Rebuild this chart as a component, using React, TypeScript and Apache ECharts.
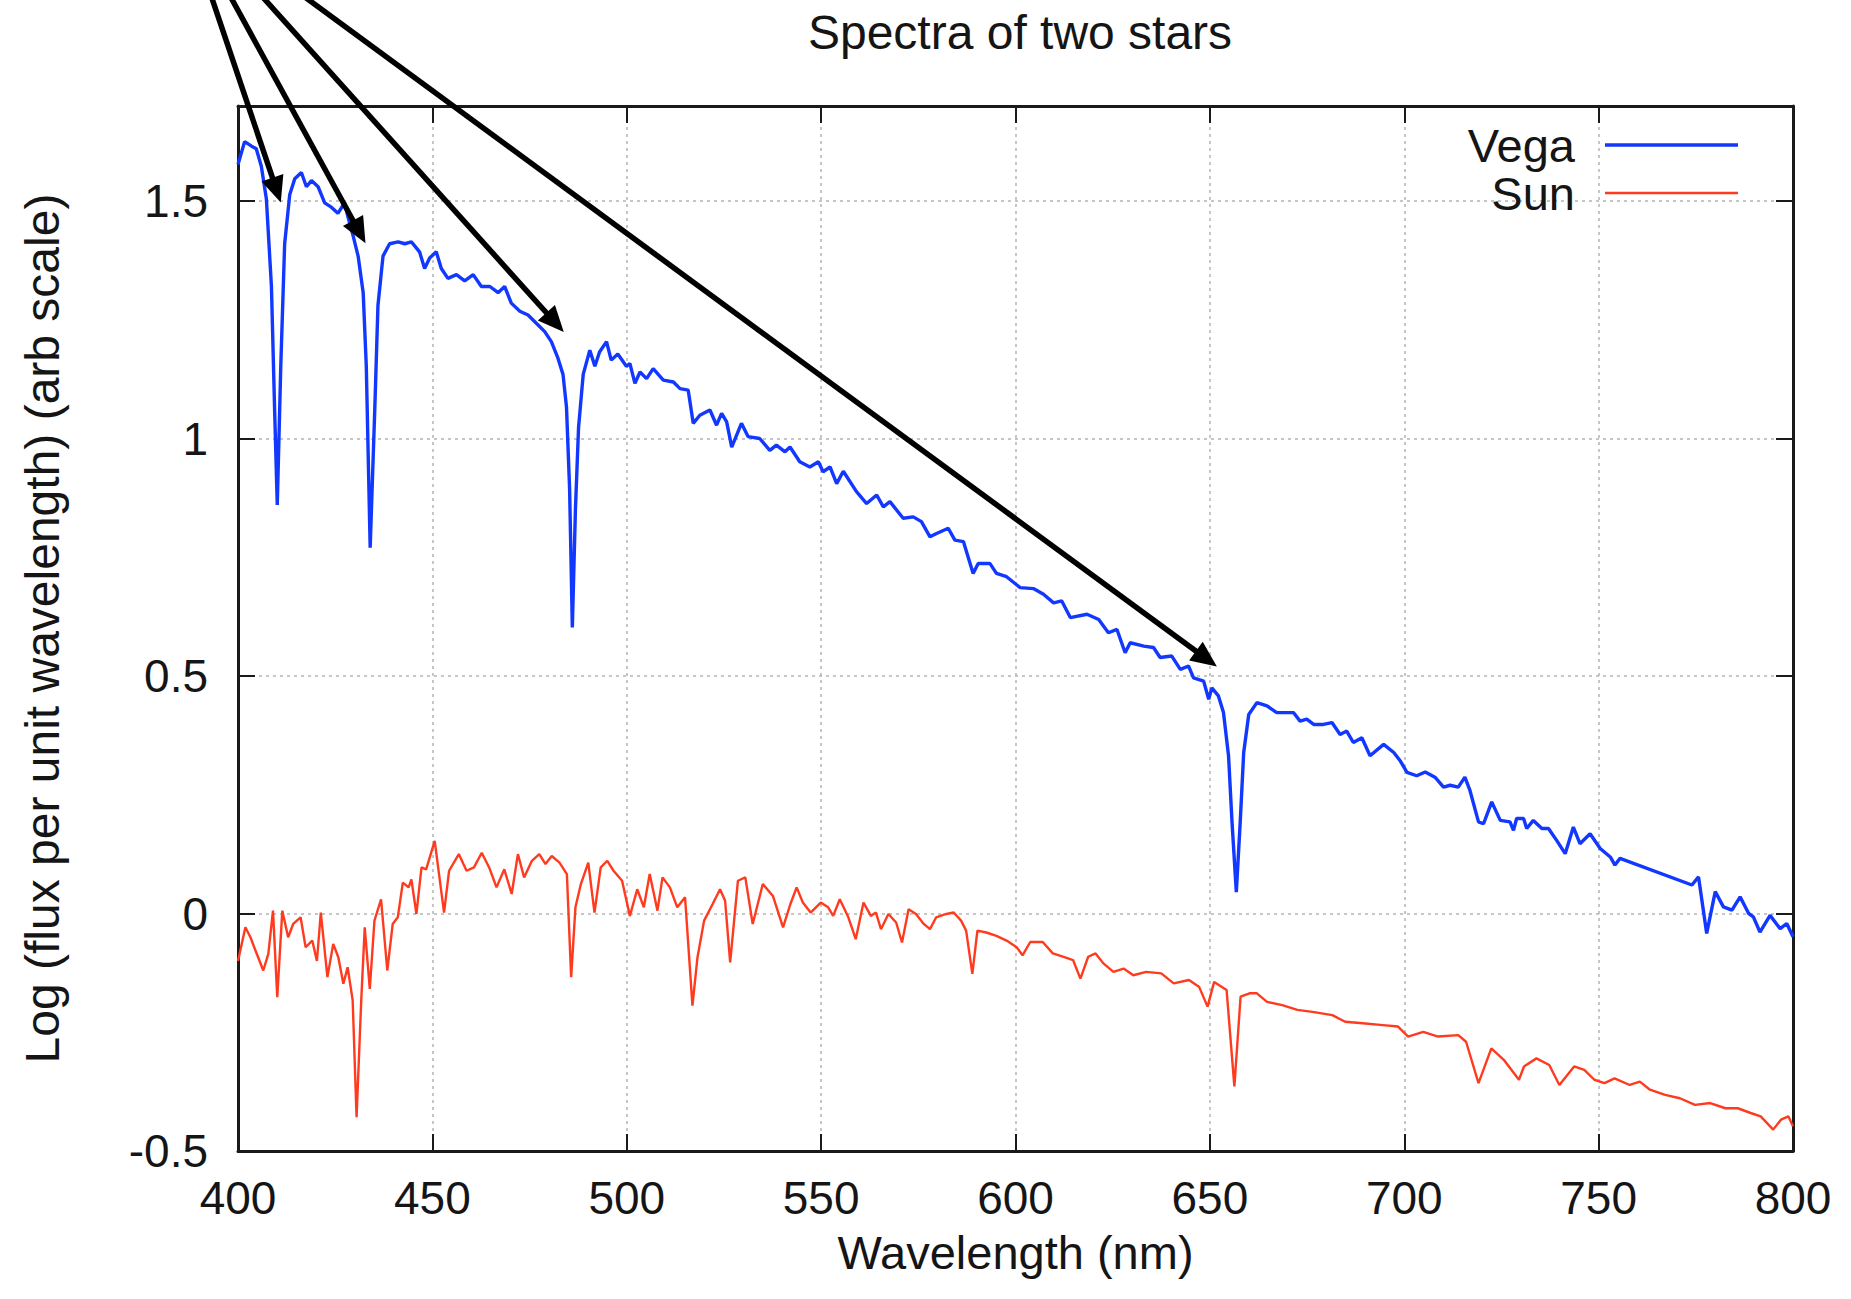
import React, { useEffect, useRef } from "react";
import * as echarts from "echarts";

const vegaWavelength = [
  400.0, 401.7, 403.4, 404.7, 406.0, 407.3, 408.6, 409.4, 410.1, 411.0, 412.0, 413.3, 414.6, 416.3, 417.6, 418.9,
  420.6, 422.3, 424.0, 425.7, 427.4, 428.3, 429.6, 430.9, 432.2, 433.0, 434.0, 435.2, 436.0, 437.3, 439.0, 441.2,
  442.9, 444.6, 446.7, 448.0, 449.3, 451.0, 452.3, 454.0, 456.2, 458.3, 460.5, 462.6, 464.8, 466.9, 468.6, 470.3,
  472.5, 474.6, 476.8, 478.9, 480.6, 482.3, 483.6, 484.5, 485.3, 486.0, 486.8, 487.6, 488.8, 490.5, 491.8, 493.0,
  494.8, 496.0, 497.7, 499.9, 500.8, 502.1, 503.4, 505.1, 506.8, 509.4, 512.0, 513.7, 515.8, 517.1, 518.8, 521.4,
  523.1, 524.4, 525.7, 527.0, 529.5, 531.2, 534.2, 536.8, 538.5, 540.7, 542.0, 544.5, 547.1, 549.3, 550.5, 552.3,
  554.0, 555.7, 559.1, 561.7, 564.3, 566.0, 567.7, 571.1, 573.7, 575.8, 578.0, 579.7, 582.7, 584.4, 586.6, 589.1,
  590.4, 593.4, 595.1, 597.7, 601.2, 604.6, 607.2, 609.8, 611.9, 614.1, 618.4, 621.4, 623.9, 626.1, 628.2, 629.5,
  633.0, 635.5, 637.2, 640.2, 642.4, 644.5, 645.8, 648.4, 649.7, 650.5, 652.2, 653.5, 654.8, 655.7, 656.8, 657.8,
  658.7, 660.0, 662.1, 664.7, 667.2, 668.9, 671.5, 673.2, 674.9, 676.7, 679.2, 681.4, 683.5, 685.2, 686.9, 689.1,
  691.2, 694.7, 697.3, 699.0, 700.7, 703.2, 705.4, 707.9, 710.1, 711.8, 713.9, 715.6, 716.9, 719.1, 720.4, 722.5,
  724.7, 727.2, 728.1, 728.9, 730.7, 731.5, 733.2, 735.4, 737.1, 739.2, 741.4, 743.5, 745.2, 747.8, 750.4, 753.0,
  754.2, 755.5, 774.0, 775.7, 777.8, 780.0, 782.1, 784.3, 786.4, 788.6, 789.8, 791.5, 794.1, 796.7, 798.4, 800.0,
];
const vegaFlux = [
  1.577, 1.625, 1.616, 1.61, 1.573, 1.504, 1.32, 1.066, 0.86, 1.152, 1.41, 1.513, 1.547, 1.56, 1.53, 1.543,
  1.53, 1.496, 1.487, 1.474, 1.496, 1.466, 1.427, 1.384, 1.307, 1.152, 0.77, 1.066, 1.28, 1.384, 1.41, 1.414,
  1.41, 1.414, 1.393, 1.358, 1.38, 1.393, 1.358, 1.337, 1.345, 1.332, 1.345, 1.32, 1.32, 1.307, 1.32, 1.285,
  1.268, 1.26, 1.242, 1.225, 1.204, 1.169, 1.135, 1.066, 0.894, 0.602, 0.851, 1.023, 1.135, 1.186, 1.152, 1.182,
  1.204, 1.165, 1.178, 1.152, 1.158, 1.116, 1.14, 1.126, 1.147, 1.123, 1.119, 1.105, 1.102, 1.032, 1.049, 1.06,
  1.028, 1.053, 1.035, 0.982, 1.032, 1.004, 1.0, 0.975, 0.986, 0.972, 0.982, 0.951, 0.94, 0.951, 0.93, 0.94,
  0.905, 0.931, 0.888, 0.863, 0.881, 0.856, 0.867, 0.832, 0.835, 0.825, 0.793, 0.8, 0.811, 0.786, 0.783, 0.716,
  0.737, 0.737, 0.716, 0.709, 0.686, 0.684, 0.672, 0.654, 0.658, 0.623, 0.63, 0.619, 0.591, 0.598, 0.549, 0.57,
  0.563, 0.56, 0.539, 0.542, 0.514, 0.521, 0.496, 0.489, 0.451, 0.475, 0.458, 0.423, 0.332, 0.192, 0.045, 0.192,
  0.339, 0.419, 0.444, 0.437, 0.423, 0.423, 0.423, 0.405, 0.409, 0.398, 0.398, 0.402, 0.377, 0.384, 0.36, 0.37,
  0.332, 0.356, 0.339, 0.321, 0.297, 0.29, 0.298, 0.287, 0.266, 0.27, 0.266, 0.287, 0.259, 0.193, 0.189, 0.235,
  0.196, 0.193, 0.175, 0.2, 0.2, 0.179, 0.196, 0.179, 0.179, 0.154, 0.126, 0.182, 0.147, 0.168, 0.137, 0.119,
  0.102, 0.116, 0.06, 0.077, -0.042, 0.046, 0.014, 0.007, 0.035, 0.0, -0.007, -0.039, -0.004, -0.032, -0.021, -0.049,
];

const sunWavelength = [
  400.0, 401.9, 403.2, 404.5, 406.5, 407.8, 409.0, 410.1, 411.4, 412.9, 414.2, 416.1, 417.4, 419.1, 420.3, 421.3,
  423.0, 424.5, 425.8, 427.1, 428.2, 429.5, 430.5, 431.7, 432.6, 433.9, 435.1, 436.8, 438.4, 439.8, 441.1, 442.4,
  443.9, 444.6, 445.9, 447.2, 448.4, 450.6, 453.0, 454.3, 456.8, 458.8, 460.7, 462.7, 464.6, 466.5, 468.5, 470.4,
  472.0, 473.6, 475.6, 477.5, 479.1, 480.7, 482.7, 484.6, 485.7, 486.8, 488.2, 490.1, 491.7, 493.3, 495.0, 496.6,
  498.8, 500.8, 502.7, 504.4, 505.9, 507.9, 509.2, 511.1, 513.0, 515.0, 516.9, 518.2, 519.9, 522.1, 524.0, 525.3,
  526.6, 528.6, 530.5, 532.4, 535.0, 537.6, 540.2, 542.1, 543.7, 545.3, 547.3, 549.9, 551.8, 553.1, 554.8, 557.0,
  558.9, 560.9, 562.8, 564.1, 565.4, 567.3, 569.3, 570.8, 572.5, 574.4, 576.4, 578.0, 579.6, 582.2, 584.1, 586.0,
  587.3, 588.9, 590.2, 592.5, 595.1, 597.7, 600.3, 601.8, 603.8, 607.0, 609.6, 612.2, 614.8, 616.7, 618.7, 620.6,
  622.6, 625.2, 627.8, 630.3, 633.6, 637.5, 640.7, 644.6, 647.2, 649.4, 651.1, 654.3, 656.3, 657.9, 660.2, 662.1,
  664.7, 668.6, 672.5, 676.4, 681.5, 684.8, 689.3, 694.5, 698.4, 701.0, 704.9, 708.7, 713.9, 715.9, 719.1, 722.4,
  725.6, 729.5, 730.8, 734.0, 737.3, 739.9, 743.7, 746.3, 748.9, 751.5, 754.1, 758.0, 760.6, 763.2, 767.1, 770.9,
  774.8, 778.7, 782.6, 785.8, 789.1, 791.7, 794.9, 796.9, 798.8, 800.0,
];
const sunFlux = [
  -0.1, -0.029, -0.05, -0.078, -0.12, -0.085, 0.006, -0.176, 0.006, -0.05, -0.022, -0.008, -0.071, -0.057, -0.1, 0.002,
  -0.134, -0.064, -0.092, -0.148, -0.113, -0.183, -0.429, -0.183, -0.029, -0.159, -0.015, 0.03, -0.12, -0.022, -0.008, 0.065,
  0.055, 0.072, -0.001, 0.097, 0.093, 0.153, 0.002, 0.09, 0.125, 0.09, 0.097, 0.128, 0.097, 0.055, 0.093, 0.041,
  0.125, 0.076, 0.111, 0.125, 0.104, 0.121, 0.107, 0.083, -0.134, 0.013, 0.062, 0.107, 0.002, 0.097, 0.111, 0.09,
  0.069, -0.005, 0.051, 0.013, 0.083, 0.006, 0.076, 0.055, 0.013, 0.034, -0.194, -0.092, -0.015, 0.02, 0.051, 0.027,
  -0.103, 0.069, 0.076, -0.022, 0.062, 0.037, -0.029, 0.02, 0.055, 0.023, 0.002, 0.023, 0.013, -0.005, 0.03, -0.008,
  -0.054, 0.023, -0.005, 0.002, -0.033, -0.001, -0.019, -0.061, 0.009, -0.001, -0.022, -0.033, -0.008, -0.001, 0.002, -0.015,
  -0.036, -0.127, -0.036, -0.04, -0.047, -0.057, -0.071, -0.088, -0.06, -0.06, -0.084, -0.091, -0.098, -0.137, -0.091, -0.084,
  -0.105, -0.123, -0.116, -0.13, -0.123, -0.126, -0.147, -0.14, -0.154, -0.196, -0.144, -0.161, -0.364, -0.175, -0.168, -0.168,
  -0.186, -0.193, -0.203, -0.207, -0.214, -0.228, -0.231, -0.235, -0.238, -0.259, -0.249, -0.259, -0.256, -0.27, -0.357, -0.284,
  -0.308, -0.35, -0.322, -0.305, -0.319, -0.361, -0.322, -0.329, -0.35, -0.357, -0.347, -0.361, -0.354, -0.371, -0.382, -0.389,
  -0.403, -0.399, -0.41, -0.41, -0.42, -0.427, -0.455, -0.434, -0.427, -0.448,
];

// Arrow annotation (data coordinates): common origin above the plot, tips at the hydrogen lines
const arrowOrigin = [385.3, 2.121];
const arrowTips = [
  [411.0, 1.497],
  [432.8, 1.411],
  [483.8, 1.224],
  [651.8, 0.52],
];

const seriesNames = ["Vega", "Sun"];
const seriesColors = ["#1238ff", "#ff3b1f"];

const FONT = "'Liberation Sans', Arial, Helvetica, sans-serif";
const TEXT = "#151515";

export default function App() {
  const ref = useRef<HTMLDivElement>(null);

  useEffect(() => {
    if (!ref.current) return;
    const chart = echarts.init(ref.current, null, { renderer: "svg" });
    const zip = (xs: number[], ys: number[]) => xs.map((x, i) => [x, ys[i]]);

    const axisLineStyle = { color: "#1a1a1a", width: 3 };
    const tickStyle = { show: true, inside: true, length: 17, lineStyle: { color: "#1a1a1a", width: 2 } };
    const gridLine = { show: true, lineStyle: { color: "#b4b4b4", width: 1.5, type: [3, 4] as any } };

    const option: any = {
      animation: false,
      backgroundColor: "#ffffff",
      title: {
        text: "Spectra of two stars",
        left: 1015,
        textAlign: "center",
        top: 3,
        textStyle: { fontFamily: FONT, fontSize: 48, fontWeight: "normal", color: TEXT },
      },
      grid: { left: 238, right: 58, top: 106, bottom: 148, containLabel: false },
      xAxis: [
        {
          type: "value",
          min: 400,
          max: 800,
          interval: 50,
          position: "bottom",
          name: "Wavelength (nm)",
          nameLocation: "middle",
          nameGap: 78,
          nameMoveOverlap: false,
          nameTextStyle: { fontFamily: FONT, fontSize: 47, color: TEXT },
          axisLine: { show: true, onZero: false, lineStyle: axisLineStyle },
          axisTick: tickStyle,
          axisLabel: { fontFamily: FONT, fontSize: 46, color: TEXT, margin: 24, showMinLabel: true, showMaxLabel: true },
          splitLine: gridLine,
        },
        {
          type: "value",
          min: 400,
          max: 800,
          interval: 50,
          position: "top",
          axisLine: { show: true, onZero: false, lineStyle: axisLineStyle },
          axisTick: tickStyle,
          axisLabel: { show: false },
          splitLine: { show: false },
        },
      ],
      yAxis: [
        {
          type: "value",
          min: -0.5,
          max: 1.7,
          interval: 0.5,
          position: "left",
          name: "Log (flux per unit wavelength) (arb scale)",
          nameLocation: "middle",
          nameGap: 172,
          nameMoveOverlap: false,
          nameTextStyle: { fontFamily: FONT, fontSize: 48, color: TEXT },
          axisLine: { show: true, onZero: false, lineStyle: axisLineStyle },
          axisTick: tickStyle,
          axisLabel: { fontFamily: FONT, fontSize: 46, color: TEXT, margin: 30, showMaxLabel: false },
          splitLine: gridLine,
        },
        {
          type: "value",
          min: -0.5,
          max: 1.7,
          interval: 0.5,
          position: "right",
          axisLine: { show: true, onZero: false, lineStyle: axisLineStyle },
          axisTick: tickStyle,
          axisLabel: { show: false },
          splitLine: { show: false },
        },
      ],
      series: [
        {
          name: seriesNames[1],
          type: "line",
          xAxisIndex: 0,
          yAxisIndex: 0,
          data: zip(sunWavelength, sunFlux),
          showSymbol: false,
          symbol: "none",
          lineStyle: { color: seriesColors[1], width: 2.4 },
          z: 3,
        },
        {
          name: seriesNames[0],
          type: "line",
          xAxisIndex: 0,
          yAxisIndex: 0,
          data: zip(vegaWavelength, vegaFlux),
          showSymbol: false,
          symbol: "none",
          lineStyle: { color: seriesColors[0], width: 3.4 },
          z: 4,
        },
      ],
    };
    chart.setOption(option);

    // Arrows converted from data coordinates to pixels
    const o = chart.convertToPixel({ gridIndex: 0 }, arrowOrigin) as number[];
    const graphics: any[] = [];
    const L = 26;
    const W = 11.5;
    arrowTips.forEach((tip) => {
      const p = chart.convertToPixel({ gridIndex: 0 }, tip) as number[];
      const dx = p[0] - o[0];
      const dy = p[1] - o[1];
      const len = Math.hypot(dx, dy);
      const ux = dx / len;
      const uy = dy / len;
      const bx = p[0] - ux * L;
      const by = p[1] - uy * L;
      graphics.push({
        type: "line",
        z: 100,
        shape: { x1: o[0], y1: o[1], x2: bx + ux * 2, y2: by + uy * 2 },
        style: { stroke: "#000", lineWidth: 5.5 },
      });
      graphics.push({
        type: "polygon",
        z: 101,
        shape: {
          points: [
            [p[0], p[1]],
            [bx - uy * W, by + ux * W],
            [bx + uy * W, by - ux * W],
          ],
        },
        style: { fill: "#000" },
      });
    });

    // Legend (text on the left, line sample on the right), inside the top-right of the plot
    const legendRows = [145, 193];
    seriesNames.forEach((name, i) => {
      graphics.push({
        type: "text",
        z: 110,
        x: 1575,
        y: legendRows[i],
        style: {
          text: name,
          fontFamily: FONT,
          fontSize: 47,
          fill: TEXT,
          textAlign: "right",
          textVerticalAlign: "middle",
        },
      });
      graphics.push({
        type: "line",
        z: 110,
        shape: { x1: 1605, y1: legendRows[i], x2: 1738, y2: legendRows[i] },
        style: { stroke: seriesColors[i], lineWidth: i === 0 ? 3.4 : 2.4 },
      });
    });

    chart.setOption({ graphic: graphics });

    return () => chart.dispose();
  }, []);

  return (
    <div
      ref={ref}
      style={{ position: "fixed", left: 0, top: 0, width: 1851, height: 1299, background: "#fff" }}
    />
  );
}
